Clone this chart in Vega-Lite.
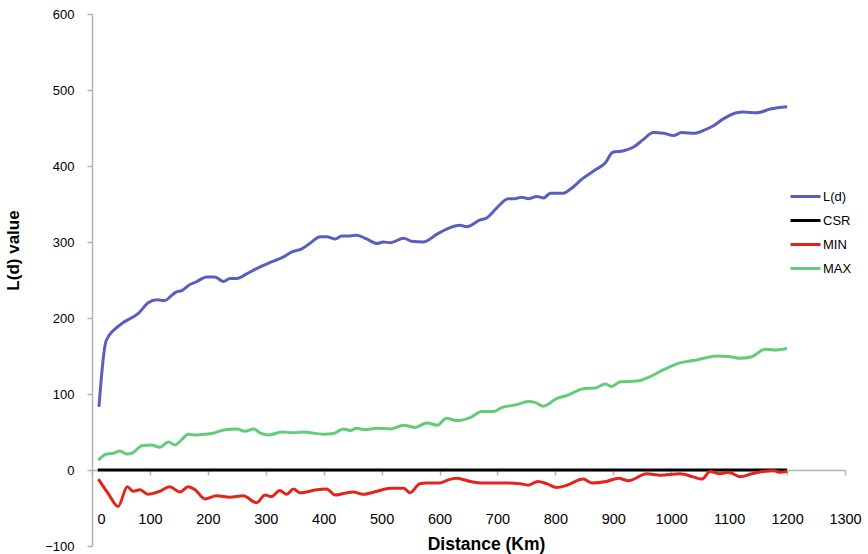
{
  "$schema": "https://vega.github.io/schema/vega-lite/v6.json",
  "autosize": "none",
  "width": 753,
  "height": 532,
  "padding": {"left": 92, "top": 14, "right": 23, "bottom": 8},
  "background": "white",
  "config": {
    "view": {"stroke": null},
    "font": "Liberation Sans"
  },
  "data": {
    "values": [
      {"d": 12, "s": "L(d)", "v": 83}, {"d": 24, "s": "L(d)", "v": 169}, {"d": 42, "s": "L(d)", "v": 187}, {"d": 54, "s": "L(d)", "v": 194},
      {"d": 80, "s": "L(d)", "v": 206}, {"d": 97, "s": "L(d)", "v": 220}, {"d": 112, "s": "L(d)", "v": 224}, {"d": 126, "s": "L(d)", "v": 223},
      {"d": 135, "s": "L(d)", "v": 228}, {"d": 145, "s": "L(d)", "v": 234}, {"d": 155, "s": "L(d)", "v": 236}, {"d": 169, "s": "L(d)", "v": 244},
      {"d": 181, "s": "L(d)", "v": 248}, {"d": 198, "s": "L(d)", "v": 254}, {"d": 212, "s": "L(d)", "v": 254}, {"d": 227, "s": "L(d)", "v": 248},
      {"d": 238, "s": "L(d)", "v": 252}, {"d": 250, "s": "L(d)", "v": 252}, {"d": 267, "s": "L(d)", "v": 258}, {"d": 284, "s": "L(d)", "v": 265},
      {"d": 307, "s": "L(d)", "v": 273}, {"d": 330, "s": "L(d)", "v": 280}, {"d": 345, "s": "L(d)", "v": 287}, {"d": 362, "s": "L(d)", "v": 291},
      {"d": 376, "s": "L(d)", "v": 298}, {"d": 394, "s": "L(d)", "v": 307}, {"d": 405, "s": "L(d)", "v": 307}, {"d": 420, "s": "L(d)", "v": 304},
      {"d": 431, "s": "L(d)", "v": 308}, {"d": 445, "s": "L(d)", "v": 308}, {"d": 457, "s": "L(d)", "v": 309}, {"d": 474, "s": "L(d)", "v": 304},
      {"d": 492, "s": "L(d)", "v": 298}, {"d": 503, "s": "L(d)", "v": 300}, {"d": 515, "s": "L(d)", "v": 299}, {"d": 538, "s": "L(d)", "v": 305},
      {"d": 552, "s": "L(d)", "v": 301}, {"d": 572, "s": "L(d)", "v": 300}, {"d": 595, "s": "L(d)", "v": 310}, {"d": 615, "s": "L(d)", "v": 318},
      {"d": 635, "s": "L(d)", "v": 322}, {"d": 647, "s": "L(d)", "v": 320}, {"d": 670, "s": "L(d)", "v": 329}, {"d": 682, "s": "L(d)", "v": 332},
      {"d": 699, "s": "L(d)", "v": 345}, {"d": 719, "s": "L(d)", "v": 357}, {"d": 730, "s": "L(d)", "v": 357}, {"d": 742, "s": "L(d)", "v": 359},
      {"d": 753, "s": "L(d)", "v": 357}, {"d": 768, "s": "L(d)", "v": 360}, {"d": 780, "s": "L(d)", "v": 358}, {"d": 791, "s": "L(d)", "v": 364},
      {"d": 814, "s": "L(d)", "v": 364}, {"d": 825, "s": "L(d)", "v": 369}, {"d": 848, "s": "L(d)", "v": 384}, {"d": 869, "s": "L(d)", "v": 395},
      {"d": 886, "s": "L(d)", "v": 404}, {"d": 899, "s": "L(d)", "v": 418}, {"d": 918, "s": "L(d)", "v": 420}, {"d": 935, "s": "L(d)", "v": 425},
      {"d": 952, "s": "L(d)", "v": 435}, {"d": 969, "s": "L(d)", "v": 444}, {"d": 987, "s": "L(d)", "v": 443}, {"d": 1004, "s": "L(d)", "v": 440},
      {"d": 1018, "s": "L(d)", "v": 444}, {"d": 1041, "s": "L(d)", "v": 443}, {"d": 1056, "s": "L(d)", "v": 447}, {"d": 1073, "s": "L(d)", "v": 453},
      {"d": 1090, "s": "L(d)", "v": 462}, {"d": 1113, "s": "L(d)", "v": 470}, {"d": 1125, "s": "L(d)", "v": 471}, {"d": 1148, "s": "L(d)", "v": 470},
      {"d": 1171, "s": "L(d)", "v": 475}, {"d": 1200, "s": "L(d)", "v": 478},

      {"d": 10, "s": "CSR", "v": 0}, {"d": 1200, "s": "CSR", "v": 0},

      {"d": 11, "s": "MIN", "v": -12}, {"d": 28, "s": "MIN", "v": -31}, {"d": 45, "s": "MIN", "v": -48}, {"d": 61, "s": "MIN", "v": -22},
      {"d": 71, "s": "MIN", "v": -28}, {"d": 83, "s": "MIN", "v": -26}, {"d": 97, "s": "MIN", "v": -32}, {"d": 117, "s": "MIN", "v": -28},
      {"d": 134, "s": "MIN", "v": -22}, {"d": 152, "s": "MIN", "v": -29}, {"d": 166, "s": "MIN", "v": -22}, {"d": 178, "s": "MIN", "v": -26},
      {"d": 195, "s": "MIN", "v": -38}, {"d": 215, "s": "MIN", "v": -34}, {"d": 238, "s": "MIN", "v": -36}, {"d": 261, "s": "MIN", "v": -34},
      {"d": 284, "s": "MIN", "v": -43}, {"d": 299, "s": "MIN", "v": -33}, {"d": 310, "s": "MIN", "v": -35}, {"d": 324, "s": "MIN", "v": -27},
      {"d": 336, "s": "MIN", "v": -32}, {"d": 348, "s": "MIN", "v": -25}, {"d": 359, "s": "MIN", "v": -30}, {"d": 388, "s": "MIN", "v": -26},
      {"d": 405, "s": "MIN", "v": -25}, {"d": 420, "s": "MIN", "v": -33}, {"d": 434, "s": "MIN", "v": -31}, {"d": 451, "s": "MIN", "v": -29},
      {"d": 468, "s": "MIN", "v": -32}, {"d": 492, "s": "MIN", "v": -28}, {"d": 515, "s": "MIN", "v": -24}, {"d": 538, "s": "MIN", "v": -24},
      {"d": 549, "s": "MIN", "v": -30}, {"d": 566, "s": "MIN", "v": -18}, {"d": 578, "s": "MIN", "v": -17}, {"d": 601, "s": "MIN", "v": -17},
      {"d": 615, "s": "MIN", "v": -13}, {"d": 630, "s": "MIN", "v": -11}, {"d": 653, "s": "MIN", "v": -15}, {"d": 676, "s": "MIN", "v": -17},
      {"d": 709, "s": "MIN", "v": -17}, {"d": 739, "s": "MIN", "v": -18}, {"d": 753, "s": "MIN", "v": -20}, {"d": 770, "s": "MIN", "v": -15},
      {"d": 785, "s": "MIN", "v": -18}, {"d": 802, "s": "MIN", "v": -23}, {"d": 820, "s": "MIN", "v": -20}, {"d": 848, "s": "MIN", "v": -12},
      {"d": 863, "s": "MIN", "v": -17}, {"d": 888, "s": "MIN", "v": -15}, {"d": 909, "s": "MIN", "v": -11}, {"d": 926, "s": "MIN", "v": -14},
      {"d": 958, "s": "MIN", "v": -5}, {"d": 981, "s": "MIN", "v": -7}, {"d": 1015, "s": "MIN", "v": -5}, {"d": 1038, "s": "MIN", "v": -9},
      {"d": 1053, "s": "MIN", "v": -12}, {"d": 1067, "s": "MIN", "v": -2}, {"d": 1084, "s": "MIN", "v": -5}, {"d": 1099, "s": "MIN", "v": -3},
      {"d": 1119, "s": "MIN", "v": -9}, {"d": 1139, "s": "MIN", "v": -5}, {"d": 1159, "s": "MIN", "v": -2}, {"d": 1177, "s": "MIN", "v": -1},
      {"d": 1188, "s": "MIN", "v": -3}, {"d": 1200, "s": "MIN", "v": -2},

      {"d": 11, "s": "MAX", "v": 13}, {"d": 25, "s": "MAX", "v": 21}, {"d": 37, "s": "MAX", "v": 22}, {"d": 48, "s": "MAX", "v": 25},
      {"d": 60, "s": "MAX", "v": 21}, {"d": 71, "s": "MAX", "v": 23}, {"d": 86, "s": "MAX", "v": 32}, {"d": 103, "s": "MAX", "v": 33},
      {"d": 117, "s": "MAX", "v": 30}, {"d": 132, "s": "MAX", "v": 37}, {"d": 143, "s": "MAX", "v": 33}, {"d": 155, "s": "MAX", "v": 40},
      {"d": 166, "s": "MAX", "v": 47}, {"d": 181, "s": "MAX", "v": 46}, {"d": 195, "s": "MAX", "v": 47}, {"d": 207, "s": "MAX", "v": 48},
      {"d": 230, "s": "MAX", "v": 53}, {"d": 250, "s": "MAX", "v": 54}, {"d": 264, "s": "MAX", "v": 51}, {"d": 279, "s": "MAX", "v": 54},
      {"d": 290, "s": "MAX", "v": 49}, {"d": 305, "s": "MAX", "v": 46}, {"d": 328, "s": "MAX", "v": 50}, {"d": 348, "s": "MAX", "v": 49},
      {"d": 365, "s": "MAX", "v": 50}, {"d": 400, "s": "MAX", "v": 47}, {"d": 417, "s": "MAX", "v": 48}, {"d": 434, "s": "MAX", "v": 54},
      {"d": 446, "s": "MAX", "v": 52}, {"d": 457, "s": "MAX", "v": 55}, {"d": 471, "s": "MAX", "v": 53}, {"d": 492, "s": "MAX", "v": 55},
      {"d": 515, "s": "MAX", "v": 54}, {"d": 538, "s": "MAX", "v": 59}, {"d": 558, "s": "MAX", "v": 56}, {"d": 578, "s": "MAX", "v": 62},
      {"d": 596, "s": "MAX", "v": 59}, {"d": 612, "s": "MAX", "v": 68}, {"d": 630, "s": "MAX", "v": 65}, {"d": 653, "s": "MAX", "v": 69},
      {"d": 673, "s": "MAX", "v": 77}, {"d": 693, "s": "MAX", "v": 77}, {"d": 707, "s": "MAX", "v": 82}, {"d": 733, "s": "MAX", "v": 86},
      {"d": 753, "s": "MAX", "v": 90}, {"d": 765, "s": "MAX", "v": 89}, {"d": 779, "s": "MAX", "v": 84}, {"d": 802, "s": "MAX", "v": 94},
      {"d": 820, "s": "MAX", "v": 98}, {"d": 848, "s": "MAX", "v": 107}, {"d": 869, "s": "MAX", "v": 108}, {"d": 886, "s": "MAX", "v": 113},
      {"d": 897, "s": "MAX", "v": 110}, {"d": 912, "s": "MAX", "v": 116}, {"d": 941, "s": "MAX", "v": 117}, {"d": 961, "s": "MAX", "v": 122},
      {"d": 987, "s": "MAX", "v": 132}, {"d": 1015, "s": "MAX", "v": 141}, {"d": 1038, "s": "MAX", "v": 144}, {"d": 1056, "s": "MAX", "v": 147},
      {"d": 1079, "s": "MAX", "v": 150}, {"d": 1102, "s": "MAX", "v": 149}, {"d": 1119, "s": "MAX", "v": 147}, {"d": 1139, "s": "MAX", "v": 149},
      {"d": 1162, "s": "MAX", "v": 159}, {"d": 1177, "s": "MAX", "v": 158}, {"d": 1200, "s": "MAX", "v": 160}
    ]
  },
  "mark": {"type": "line", "strokeWidth": 3, "interpolate": "monotone"},
  "encoding": {
    "x": {
      "field": "d", "type": "quantitative",
      "scale": {"domain": [0, 1300], "nice": false, "zero": false},
      "axis": {
        "title": "Distance (Km)",
        "values": [0, 100, 200, 300, 400, 500, 600, 700, 800, 900, 1000, 1100, 1200, 1300],
        "format": "d",
        "offset": -76,
        "grid": false,
        "domainColor": "#b3b3b3",
        "domainWidth": 1.5,
        "tickColor": "#b3b3b3",
        "tickWidth": 1.5,
        "tickSize": 5,
        "labelPadding": 37,
        "labelFontSize": 14.5,
        "labelColor": "#000000",
        "labelFlush": false,
        "labelBaseline": "top",
        "labelOffset": {"condition": {"test": "datum.value === 0", "value": 9}, "value": 0},
        "titleFontSize": 17.5,
        "titleFontWeight": "bold",
        "titleColor": "#000000",
        "titlePadding": 10,
        "titleX": 394
      }
    },
    "y": {
      "field": "v", "type": "quantitative",
      "scale": {"domain": [-100, 600], "nice": false, "zero": false},
      "axis": {
        "title": "L(d) value",
        "values": [-100, 0, 100, 200, 300, 400, 500, 600],
        "grid": false,
        "domainColor": "#b3b3b3",
        "domainWidth": 1.5,
        "tickColor": "#b3b3b3",
        "tickWidth": 1.5,
        "tickSize": 5,
        "labelPadding": 13,
        "labelFontSize": 13,
        "labelColor": "#000000",
        "labelFlush": false,
        "titleFontSize": 17,
        "titleFontWeight": "bold",
        "titleColor": "#000000",
        "titlePadding": 22,
        "titleY": 236
      }
    },
    "color": {
      "field": "s", "type": "nominal",
      "scale": {"domain": ["L(d)", "CSR", "MIN", "MAX"], "range": ["#5a5fbf", "#000000", "#e3241b", "#62cc78"]},
      "legend": {
        "title": null,
        "orient": "none",
        "legendX": 697,
        "legendY": 166,
        "symbolType": "stroke",
        "symbolSize": 900,
        "symbolStrokeWidth": 3,
        "labelFontSize": 13,
        "labelColor": "#000000",
        "labelOffset": 1,
        "rowPadding": -8
      }
    },
    "strokeWidth": {
      "condition": {"test": "datum.s === 'CSR'", "value": 4},
      "value": 3
    }
  }
}
